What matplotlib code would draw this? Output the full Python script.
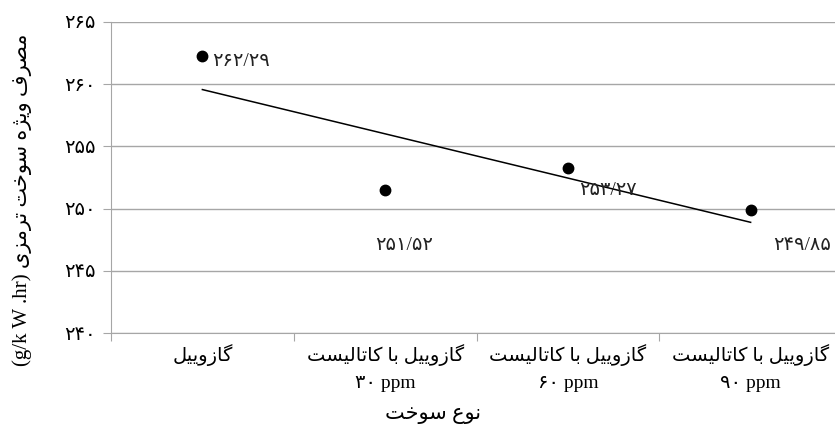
import numpy as np
import matplotlib
matplotlib.use("Agg")
import matplotlib.pyplot as plt

# data
fuel_names = ["گازوییل", "گازوییل با کاتالیست", "گازوییل با کاتالیست", "گازوییل با کاتالیست"]
fuel_doses = ["", "30 ppm", "60 ppm", "90 ppm"]
bsfc = [262.29, 251.52, 253.27, 249.85]
y_ticks = [240, 245, 250, 255, 260, 265]
y_title = "مصرف ویژه سوخت ترمزی"
y_unit = "(g/k W .hr)"
x_title = "نوع سوخت"

# matplotlib has no arabic shaping, so pick presentation forms by hand
# (isolated, final, initial, medial)
FORMS = {
    'ا': (0xFE8D, 0xFE8E, None, None),
    'ب': (0xFE8F, 0xFE90, 0xFE91, 0xFE92),
    'ت': (0xFE95, 0xFE96, 0xFE97, 0xFE98),
    'ث': (0xFE99, 0xFE9A, 0xFE9B, 0xFE9C),
    'خ': (0xFEA5, 0xFEA6, 0xFEA7, 0xFEA8),
    'ر': (0xFEAD, 0xFEAE, None, None),
    'ز': (0xFEAF, 0xFEB0, None, None),
    'س': (0xFEB1, 0xFEB2, 0xFEB3, 0xFEB4),
    'ص': (0xFEB9, 0xFEBA, 0xFEBB, 0xFEBC),
    'ع': (0xFEC9, 0xFECA, 0xFECB, 0xFECC),
    'ف': (0xFED1, 0xFED2, 0xFED3, 0xFED4),
    'ل': (0xFEDD, 0xFEDE, 0xFEDF, 0xFEE0),
    'م': (0xFEE1, 0xFEE2, 0xFEE3, 0xFEE4),
    'ن': (0xFEE5, 0xFEE6, 0xFEE7, 0xFEE8),
    'ه': (0xFEE9, 0xFEEA, 0xFEEB, 0xFEEC),
    'و': (0xFEED, 0xFEEE, None, None),
    'ژ': (0xFB8A, 0xFB8B, None, None),
    'ک': (0xFB8E, 0xFB8F, 0xFB90, 0xFB91),
    'گ': (0xFB92, 0xFB93, 0xFB94, 0xFB95),
    'ی': (0xFBFC, 0xFBFD, 0xFBFE, 0xFBFF),
}


def shape(text):
    out = []
    for i, c in enumerate(text):
        if c not in FORMS:
            out.append(c)
            continue
        iso, fin, ini, med = FORMS[c]
        prev = text[i - 1] if i > 0 else None
        nxt = text[i + 1] if i + 1 < len(text) else None
        join_prev = prev in FORMS and FORMS[prev][2] is not None
        join_next = ini is not None and nxt in FORMS
        if join_prev and join_next:
            g = med
        elif join_prev:
            g = fin
        elif join_next:
            g = ini
        else:
            g = iso
        out.append(chr(g))
    return "".join(reversed(out))


def fa_num(s):
    s = str(s).replace(".", "/")
    return "".join(chr(0x06F0 + int(ch)) if ch.isdigit() else ch for ch in s)


FONT = ["Liberation Serif", "DejaVu Sans"]
plt.rcParams['font.family'] = FONT

fig = plt.figure(figsize=(8.35, 4.37), dpi=100)
ax = fig.add_axes([111 / 835, 1 - 333 / 437, 731 / 835, 311 / 437])

x = np.arange(len(bsfc))
ax.plot(x, bsfc, 'o', color='black', markersize=7.5, zorder=3)

# linear trend line
k, b = np.polyfit(x, bsfc, 1)
ax.plot(x, k * x + b, color='black', lw=1.1, zorder=2)

# value labels (offsets in points)
offsets = [(7, -4), (-7, -40), (8, -16), (16, -25)]
for xi, v, (dx, dy) in zip(x, bsfc, offsets):
    ax.annotate(fa_num(f"{v:.2f}"), (xi, v), xytext=(dx, dy), textcoords='offset points',
                ha='left', va='center', fontsize=14, family=FONT, color='#222222')

ax.set_ylim(240, 265)
ax.set_xlim(-0.5, len(bsfc) - 0.5)
ax.set_yticks(y_ticks)
ax.set_yticklabels([fa_num(t) for t in y_ticks], fontsize=14, family=FONT)
ax.yaxis.grid(True, color='#a6a6a6', lw=1)
ax.set_axisbelow(True)

ax.set_xticks(np.arange(len(bsfc) + 1) - 0.5, minor=False)
ax.set_xticklabels([])
ax.tick_params(axis='x', length=6, color='#a6a6a6', direction='out')
ax.tick_params(axis='y', length=6, color='#a6a6a6', direction='out', pad=5)

for s in ['top', 'right']:
    ax.spines[s].set_visible(False)
for s in ['left', 'bottom']:
    ax.spines[s].set_color('#a6a6a6')

for xi, name, dose in zip(x, fuel_names, fuel_doses):
    ax.text(xi, 238.2, shape(name), ha='center', va='center', fontsize=14, family=FONT)
    if dose:
        ax.text(xi, 235.95, fa_num(dose), ha='center', va='center', fontsize=14, family=FONT)

fig.text(433 / 835, 1 - 414 / 437, shape(x_title), ha='center', va='center', fontsize=15)
fig.text(22 / 835, 1 - 200 / 437, y_unit + " " + shape(y_title), rotation=90,
         ha='center', va='center', fontsize=15)

fig.savefig("out.png", dpi=100)
